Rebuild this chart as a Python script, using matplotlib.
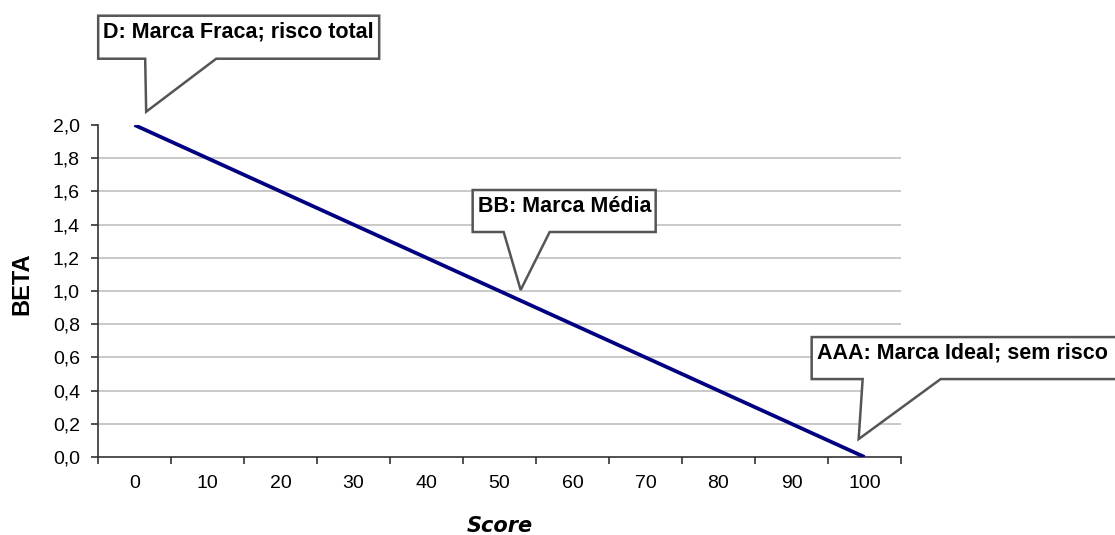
import matplotlib
matplotlib.use("Agg")
import matplotlib.pyplot as plt
from matplotlib.patches import Polygon
from matplotlib.transforms import IdentityTransform

scores = [0, 10, 20, 30, 40, 50, 60, 70, 80, 90, 100]
beta = [2.0, 1.8, 1.6, 1.4, 1.2, 1.0, 0.8, 0.6, 0.4, 0.2, 0.0]
y_ticks = [0.0, 0.2, 0.4, 0.6, 0.8, 1.0, 1.2, 1.4, 1.6, 1.8, 2.0]

callout_texts = ["D: Marca Fraca; risco total", "BB: Marca Média", "AAA: Marca Ideal; sem risco"]
callout_tips = [(1.6, 2.08), (52.9, 1.006), (99.2, 0.108)]

# box geometry in pixels relative to the tip: left, right, top, bottom, pointer base x1, x2
callout_boxes = [(-48, 233, 96, 53, -1, 70),
                 (-48, 135, 100, 58, -17, 29),
                 (-47, 320, 102, 60, 4, 82)]

plt.rcParams['font.family'] = ['Liberation Sans', 'DejaVu Sans']

fig = plt.figure(figsize=(11.15, 5.35), dpi=100)
ax = fig.add_axes([98 / 1115, 78 / 535, 803 / 1115, 332 / 535])

ax.plot(scores, beta, color='#000080', lw=2.7, solid_capstyle='butt', zorder=3)

ax.set_xlim(-5, 105)
ax.set_ylim(0, 2.0)

# category style axis: labels centred, ticks on the category boundaries
ax.set_xticks(scores)
ax.set_xticklabels([str(s) for s in scores], fontsize=14)
ax.set_xticks([s + 5 for s in [-10] + scores], minor=True)
ax.tick_params(axis='x', which='major', length=0, pad=13)
ax.tick_params(axis='x', which='minor', length=5, width=1.2, color='#333333', direction='out')

ax.set_yticks(y_ticks)
ax.set_yticklabels([f"{v:.1f}".replace('.', ',') for v in y_ticks], fontsize=14)
ax.tick_params(axis='y', length=5, width=1.2, color='#333333', pad=8)

for v in y_ticks[1:-1]:
    ax.axhline(v, color='#c0c0c0', lw=1.2, zorder=1)

for side in ['top', 'right']:
    ax.spines[side].set_visible(False)
for side in ['left', 'bottom']:
    ax.spines[side].set_color('#333333')
    ax.spines[side].set_linewidth(1.2)

ax.set_ylabel("BETA", fontsize=17, fontweight='bold')
ax.yaxis.set_label_coords(-0.081, 0.5226)
ax.set_xlabel("Score", fontsize=15, fontweight='bold', style='italic',
              family='DejaVu Sans', labelpad=17)

# speech-bubble callouts pointing at the line
fig.canvas.draw()
for text, tip, box in zip(callout_texts, callout_tips, callout_boxes):
    tx, ty = ax.transData.transform(tip)
    l, r, top, bot, b1, b2 = box
    verts = [(tx + l, ty + bot), (tx + b1, ty + bot), (tx, ty), (tx + b2, ty + bot),
             (tx + r, ty + bot), (tx + r, ty + top), (tx + l, ty + top)]
    fig.add_artist(Polygon(verts, closed=True, facecolor='white', edgecolor='#555555',
                           lw=1.8, transform=IdentityTransform(), zorder=5))
    fig.text(tx + l + 5, ty + top - 16, text, transform=IdentityTransform(),
             ha='left', va='center', fontsize=15.5, fontweight='bold', zorder=6)

fig.savefig("out.png", dpi=100)
